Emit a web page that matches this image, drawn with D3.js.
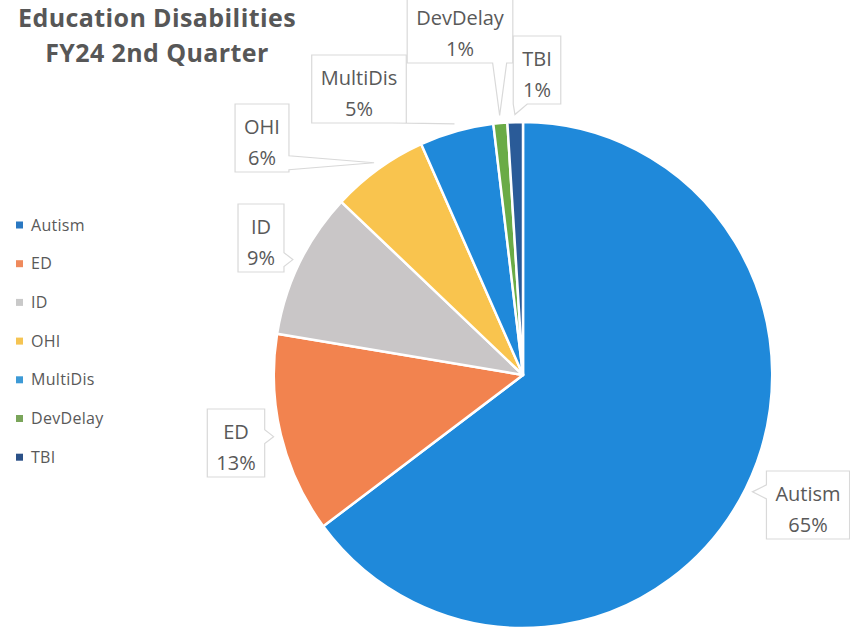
<!DOCTYPE html>
<html>
<head>
<meta charset="utf-8">
<script src="https://cdn.jsdelivr.net/npm/d3@7"></script>
<style>
  body { margin: 0; background: #fff; }
  svg { display: block; }
</style>
</head>
<body>
<div id="chart"></div>
<script>
// datos (porcentaje de alumnos por discapacidad)
const categories = ["Autism", "ED", "ID", "OHI", "MultiDis", "DevDelay", "TBI"];
const values = [64.8, 12.8, 9.4, 6.3, 4.8, 0.9, 1.0];
const colors = ["#1f89da", "#f2834f", "#c9c6c7", "#f9c44e", "#1f89da", "#6aab46", "#2a5b98"];
const legendColors = ["#2a78c2", "#ef8a5c", "#c9c9c9", "#f5c452", "#3d9ad6", "#7aa55a", "#2b5188"];
const titleLines = ["Education Disabilities", "FY24 2nd Quarter"];

const width = 850, height = 632;
const cx = 523, cy = 375, r = 253;

const svg = d3.select("#chart").append("svg")
  .attr("width", width).attr("height", height);

// titulo
svg.selectAll("text.title")
  .data(titleLines)
  .join("text")
  .attr("class", "title")
  .attr("x", 157)
  .attr("y", (d, i) => 27 + i * 35)
  .attr("text-anchor", "middle")
  .style("font", "bold 25px 'Open Sans', sans-serif")
  .style("letter-spacing", "0.4px")
  .style("fill", "#575757")
  .text(d => d);

const data = categories.map((c, i) => ({ name: c, value: values[i], color: colors[i] }));
const total = d3.sum(values);

const pie = d3.pie().sort(null).value(d => d.value);
const arcs = pie(data);
const arc = d3.arc().innerRadius(0).outerRadius(r);

const g = svg.append("g").attr("transform", `translate(${cx},${cy}) scale(0.985,1)`);

g.selectAll("path")
  .data(arcs)
  .join("path")
  .attr("d", arc)
  .attr("fill", d => d.data.color)
  .attr("stroke", "white")
  .style("stroke-width", "2.5px")
  .style("stroke-linejoin", "round");

// posicion de las etiquetas (centro de cada caja)
const labelPos = {
  Autism: [808, 509],
  ED: [236, 447],
  ID: [261, 242],
  OHI: [262, 142],
  MultiDis: [359, 93],
  DevDelay: [460, 33],
  TBI: [537, 74]
};

const labels = svg.append("g");

arcs.forEach(function (d) {
  const [lx, ly] = labelPos[d.data.name];
  const grp = labels.append("g");
  const pct = Math.round(d.data.value / total * 100) + "%";

  const txt = grp.selectAll("text")
    .data([d.data.name, pct])
    .join("text")
    .attr("x", lx)
    .attr("y", (t, i) => ly - 8 + i * 31)
    .attr("text-anchor", "middle")
    .style("font", "20px 'Open Sans', sans-serif")
    .style("fill", "#595959")
    .text(t => t);

  let tw = 0;
  txt.each(function () { tw = Math.max(tw, this.getComputedTextLength()); });
  const bw = tw + 18, bh = 68;
  const x0 = lx - bw / 2, y0 = ly - bh / 2 - 4, x1 = x0 + bw, y1 = y0 + bh;

  // punto del sector al que apunta la llamada
  const mid = (d.startAngle + d.endAngle) / 2;
  const ax = cx + Math.sin(mid) * r * 1.03 * 0.985;
  const ay = cy - Math.cos(mid) * r * 1.03;

  // forma de la caja con la cuña hacia el sector
  let p;
  const w = 7;
  if (ay > y1) {
    const bx = Math.max(x0 + w, Math.min(x1 - w, ax));
    p = `M${x0},${y0}H${x1}V${y1}H${bx + w}L${ax},${ay}L${bx - w},${y1}H${x0}Z`;
  } else if (ax > x1) {
    const by = Math.max(y0 + w, Math.min(y1 - w, ay));
    p = `M${x0},${y0}H${x1}V${by - w}L${ax},${ay}L${x1},${by + w}V${y1}H${x0}Z`;
  } else if (ax < x0) {
    const by = Math.max(y0 + w, Math.min(y1 - w, ay));
    p = `M${x0},${y0}H${x1}V${y1}H${x0}V${by + w}L${ax},${ay}L${x0},${by - w}Z`;
  } else {
    p = `M${x0},${y0}H${x1}V${y1}H${x0}Z`;
  }
  grp.insert("path", "text")
    .attr("d", p)
    .attr("fill", "white")
    .attr("stroke", "#d9d9d9")
    .attr("stroke-width", 1.2);
});

// leyenda
const legend = svg.append("g");
const items = legend.selectAll("g")
  .data(categories)
  .join("g")
  .attr("transform", (d, i) => `translate(0,${225 + i * 38.7})`);
items.append("rect")
  .attr("x", 16).attr("y", -3.5)
  .attr("width", 7).attr("height", 7)
  .attr("fill", (d, i) => legendColors[i]);
items.append("text")
  .attr("x", 31).attr("y", 0)
  .attr("dy", "0.35em")
  .style("font", "16px 'Open Sans', sans-serif")
  .style("letter-spacing", "0.3px")
  .style("fill", "#595959")
  .text(d => d);
</script>
</body>
</html>
